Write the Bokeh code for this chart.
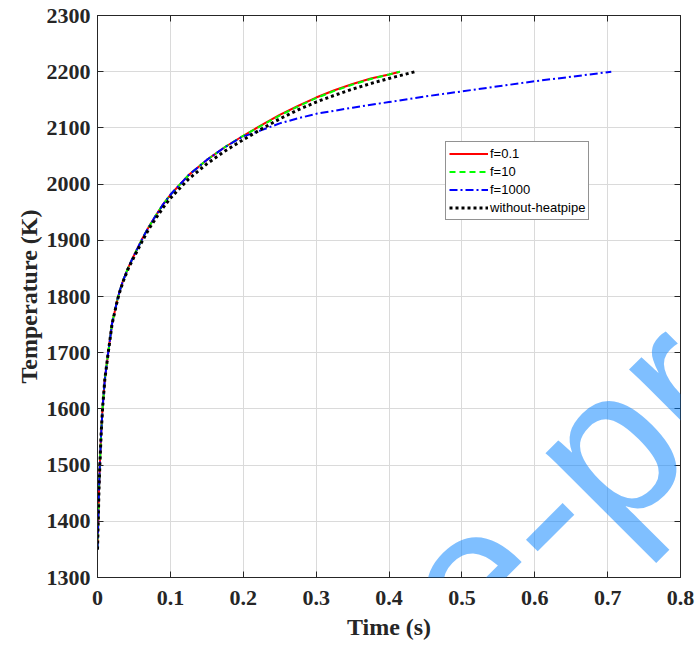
import math
from bokeh.plotting import figure
from bokeh.models import Range1d, FixedTicker, LinearAxis, Legend, LegendItem, Label
from bokeh.embed import file_html
from bokeh.resources import INLINE

# ---- data ----
t_red = [0, 0.0005, 0.001, 0.002, 0.0032, 0.005, 0.0069, 0.01, 0.0147, 0.02, 0.0274, 0.031, 0.035, 0.042,
         0.05, 0.062, 0.07, 0.08, 0.09, 0.1, 0.125, 0.15, 0.175, 0.2, 0.225, 0.25, 0.275, 0.3, 0.325,
         0.35, 0.375, 0.4, 0.415]
T_red = [1350, 1376, 1400, 1455, 1500, 1556, 1600, 1652, 1700, 1752, 1795, 1812, 1828, 1851,
         1873, 1904, 1923, 1944, 1964, 1981, 2016, 2043, 2066, 2086, 2105, 2123, 2139, 2154, 2167,
         2178, 2188, 2195, 2200]

t_green = [0, 0.0005, 0.001, 0.002, 0.0032, 0.005, 0.0069, 0.01, 0.0147, 0.02, 0.0274, 0.031, 0.035, 0.042,
           0.05, 0.062, 0.07, 0.08, 0.09, 0.1, 0.125, 0.15, 0.175, 0.2, 0.225, 0.25, 0.275, 0.3, 0.325,
           0.35, 0.375, 0.4, 0.415]
T_green = [1350, 1376, 1400, 1455, 1500, 1556, 1600, 1652, 1700, 1752, 1795, 1812, 1828, 1851,
           1873, 1904, 1923, 1944, 1964, 1981, 2016, 2043, 2066, 2086, 2104, 2122, 2138, 2153, 2166,
           2177, 2187, 2195, 2200]

t_blue = [0, 0.0005, 0.001, 0.002, 0.0032, 0.005, 0.0069, 0.01, 0.0147, 0.02, 0.0274, 0.031, 0.035, 0.042,
          0.05, 0.062, 0.07, 0.08, 0.09, 0.1, 0.125, 0.15, 0.175, 0.2, 0.21, 0.225, 0.25, 0.275, 0.3,
          0.35, 0.4, 0.45, 0.5, 0.55, 0.6, 0.65, 0.705]
T_blue = [1350, 1376, 1400, 1455, 1500, 1556, 1600, 1652, 1700, 1752, 1795, 1812, 1828, 1851,
          1873, 1904, 1923, 1944, 1964, 1981, 2016, 2043, 2066, 2085, 2089, 2096, 2108, 2117, 2125,
          2136, 2146, 2156, 2165, 2174, 2183, 2191, 2200]

t_black = [0, 0.0005, 0.001, 0.002, 0.0032, 0.005, 0.0069, 0.01, 0.0147, 0.02, 0.0274, 0.031, 0.035, 0.042,
           0.05, 0.062, 0.07, 0.08, 0.09, 0.1, 0.125, 0.15, 0.175, 0.2, 0.225, 0.25, 0.275, 0.3, 0.325,
           0.35, 0.375, 0.4, 0.436]
T_black = [1350, 1376, 1400, 1455, 1500, 1556, 1600, 1652, 1700, 1751, 1794, 1810, 1826, 1849,
           1870, 1900, 1919, 1939, 1958, 1975, 2009, 2036, 2059, 2079, 2098, 2116, 2132, 2146, 2158,
           2169, 2179, 2188, 2200]

x_ticks = [0, 0.1, 0.2, 0.3, 0.4, 0.5, 0.6, 0.7, 0.8]
y_ticks = [1300, 1400, 1500, 1600, 1700, 1800, 1900, 2000, 2100, 2200, 2300]
x_tick_labels = {0: "0", 0.1: "0.1", 0.2: "0.2", 0.3: "0.3", 0.4: "0.4", 0.5: "0.5", 0.6: "0.6", 0.7: "0.7", 0.8: "0.8"}
series_labels = ["f=0.1", "f=10", "f=1000", "without-heatpipe"]
watermark_text = "Journal Pre-proof"

AX = "#262626"
SERIF = "Liberation Serif"

p = figure(width=696, height=645, output_backend="svg", toolbar_location=None,
           x_range=Range1d(0, 0.8), y_range=Range1d(1300, 2300),
           min_border_left=97, min_border_right=16, min_border_top=15, min_border_bottom=68,
           background_fill_color="white", border_fill_color="white")

p.outline_line_color = AX
p.outline_line_width = 1

for ax in (p.xaxis[0], p.yaxis[0]):
    ax.axis_line_color = AX
    ax.major_tick_line_color = AX
    ax.major_tick_in = 6
    ax.major_tick_out = 0
    ax.minor_tick_line_color = None
    ax.major_label_text_font = SERIF
    ax.major_label_text_font_style = "bold"
    ax.major_label_text_font_size = "22px"
    ax.major_label_text_color = AX
    ax.axis_label_text_font = SERIF
    ax.axis_label_text_font_style = "bold"
    ax.axis_label_text_font_size = "24px"
    ax.axis_label_text_color = AX

p.xaxis[0].ticker = FixedTicker(ticks=x_ticks)
p.xaxis[0].major_label_overrides = x_tick_labels
p.yaxis[0].ticker = FixedTicker(ticks=y_ticks)
p.xaxis[0].axis_label = "Time (s)"
p.yaxis[0].axis_label = "Temperature (K)"
p.xaxis[0].major_label_standoff = 13
p.xaxis[0].axis_label_standoff = 6
p.yaxis[0].major_label_standoff = 7
p.yaxis[0].axis_label_standoff = 2

# inward ticks on top and right (no labels)
top = LinearAxis(ticker=FixedTicker(ticks=x_ticks))
right = LinearAxis(ticker=FixedTicker(ticks=y_ticks))
for ax in (top, right):
    ax.axis_line_color = AX
    ax.major_tick_line_color = AX
    ax.major_tick_in = 6
    ax.major_tick_out = 0
    ax.minor_tick_line_color = None
    ax.major_label_text_color = None
    ax.major_label_text_font_size = "0px"
    ax.major_label_standoff = 0
    ax.axis_label = None
p.add_layout(top, "above")
p.add_layout(right, "right")

p.xgrid.ticker = FixedTicker(ticks=x_ticks)
p.ygrid.ticker = FixedTicker(ticks=y_ticks)
p.grid.grid_line_color = "#dadada"
p.grid.grid_line_width = 1

r1 = p.line(t_red, T_red, line_color="#ff0000", line_width=2)
r2 = p.line(t_green, T_green, line_color="#00ff00", line_width=2, line_dash="6 4")
r3 = p.line(t_blue, T_blue, line_color="#0000ff", line_width=2, line_dash="8 3 2 3")
r4 = p.line(t_black, T_black, line_color="#000000", line_width=3, line_dash="3 3")

legend = Legend(items=[LegendItem(label=series_labels[0], renderers=[r1]),
                       LegendItem(label=series_labels[1], renderers=[r2]),
                       LegendItem(label=series_labels[2], renderers=[r3]),
                       LegendItem(label=series_labels[3], renderers=[r4])],
                location=(348, 357))
legend.label_text_font = "Liberation Sans"
legend.label_text_font_size = "13px"
legend.label_text_color = "#000000"
legend.glyph_width = 39
legend.glyph_height = 17
legend.label_height = 17
legend.label_standoff = 2
legend.spacing = 1
legend.padding = 3
legend.margin = 0
legend.border_line_color = AX
legend.border_line_width = 1
legend.background_fill_alpha = 1
p.add_layout(legend, "center")

wm = Label(x=0.313, y=1033, x_units="data", y_units="data", text=watermark_text,
           angle=math.pi / 4, text_align="center", text_baseline="alphabetic",
           text_font="Liberation Sans", text_font_size="212px",
           text_color="#0080ff", text_alpha=0.5, level="overlay")
p.add_layout(wm)

open("out.html", "w").write(file_html(p, INLINE))
